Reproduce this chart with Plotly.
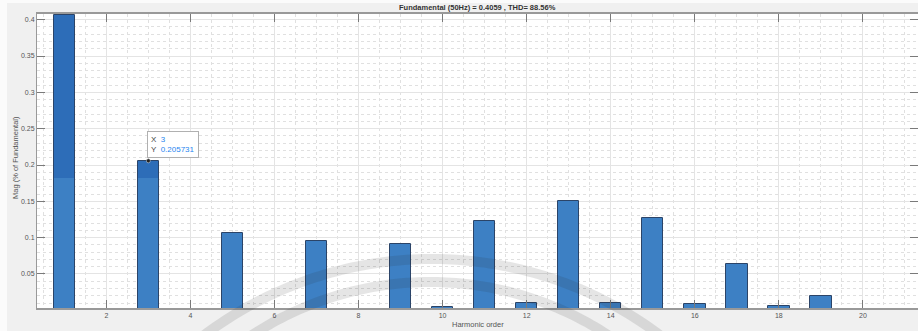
import numpy as np
import plotly.graph_objects as go

# Harmonic spectrum (FFT analysis of the measured signal)
harmonics = list(range(1, 21))
magnitudes = [0.4059, 0.0021, 0.205731, 0.0016, 0.1060, 0.0012, 0.0958, 0.0014,
              0.0913, 0.0050, 0.1233, 0.0100, 0.1500, 0.0105, 0.1270, 0.0083,
              0.0637, 0.0064, 0.0200, 0.0024]
y_tick_vals = [0.05, 0.1, 0.15, 0.2, 0.25, 0.3, 0.35, 0.4]
y_tick_text = ["0.05", "0.1", "0.15", "0.2", "0.25", "0.3", "0.35", "0.4"]
x_tick_vals = [2, 4, 6, 8, 10, 12, 14, 16, 18, 20]
title_text = "Fundamental (50Hz) = 0.4059 , THD= 88.56%"
tip_index = 2  # data tip placed on the 3rd harmonic

W, H = 918, 331
ML, MR, MT, MB = 37, 0, 14, 23
PW, PH = W - ML - MR, H - MT - MB

SPLIT = 0.182
BAR_W = 0.51
light_blue = "#3d80c4"
dark_blue = "#2d6db8"
edge = "#2b4468"
font = "Liberation Sans, Arial, sans-serif"


def px_to_paper(px, py):
    return (px - ML) / PW, (H - MB - py) / PH


fig = go.Figure()

# bar body
fig.add_trace(go.Bar(x=harmonics, y=magnitudes, width=BAR_W,
                     marker=dict(color=light_blue, line=dict(width=0)),
                     hoverinfo="skip"))
# darker shading on the upper part of the tall bars
up_x = [h for h, m in zip(harmonics, magnitudes) if m > SPLIT]
up_y = [m - SPLIT for m in magnitudes if m > SPLIT]
fig.add_trace(go.Bar(x=up_x, y=up_y, base=[SPLIT] * len(up_x), width=BAR_W,
                     marker=dict(color=dark_blue, line=dict(width=0)),
                     hoverinfo="skip"))
# bar outlines
fig.add_trace(go.Bar(x=harmonics, y=magnitudes, width=BAR_W,
                     marker=dict(color="rgba(0,0,0,0)",
                                 line=dict(color=edge, width=1)),
                     hoverinfo="skip"))
# data tip marker
fig.add_trace(go.Scatter(x=[harmonics[tip_index]], y=[magnitudes[tip_index]],
                         mode="markers",
                         marker=dict(size=4, color="#222",
                                     line=dict(color="#ddd", width=0.5)),
                         hoverinfo="skip"))

shapes = []
# white strips at the left and top border of the figure window
shapes.append(dict(type="rect", xref="paper", yref="paper",
                   x0=px_to_paper(0, 0)[0], x1=px_to_paper(7, 0)[0],
                   y0=px_to_paper(0, H)[1], y1=px_to_paper(0, 0)[1],
                   fillcolor="#fbfbfb", line=dict(width=0), layer="below"))
shapes.append(dict(type="rect", xref="paper", yref="paper",
                   x0=px_to_paper(0, 0)[0], x1=px_to_paper(W, 0)[0],
                   y0=px_to_paper(0, 3)[1], y1=px_to_paper(0, 0)[1],
                   fillcolor="#fbfbfb", line=dict(width=0), layer="below"))

# faint arc bands across the lower part of the figure
for cx, cy, r in [(432, 638, 379), (430, 607, 325)]:
    ang = np.linspace(np.pi * 1.13, np.pi * 1.87, 160)
    xs = cx + r * np.cos(ang)
    ys = cy + r * np.sin(ang)
    keep = ys <= H + 8
    pts = [px_to_paper(a, b) for a, b in zip(xs[keep], ys[keep])]
    path = "M " + " L ".join(f"{a:.5f},{b:.5f}" for a, b in pts)
    shapes.append(dict(type="path", xref="paper", yref="paper", path=path,
                       line=dict(color="rgba(40,40,40,0.12)", width=10),
                       layer="above"))

tip_text = (f"X  <span style='color:#1f86f0'>{harmonics[tip_index]}</span><br>"
            f"Y  <span style='color:#1f86f0'>{magnitudes[tip_index]:g}</span>")

annotations = [
    dict(x=harmonics[tip_index], y=magnitudes[tip_index], xref="x", yref="y",
         text=tip_text, showarrow=False, xanchor="left", yanchor="bottom",
         align="left", xshift=-1, yshift=3,
         font=dict(family=font, size=8, color="#444"),
         bgcolor="white", bordercolor="#b0b0b0", borderwidth=1, borderpad=3),
    dict(x=0.5, y=px_to_paper(0, 8)[1], xref="paper", yref="paper",
         text=f"<b>{title_text}</b>", showarrow=False,
         xanchor="center", yanchor="middle",
         font=dict(family=font, size=7.5, color="#333")),
    dict(x=0.5, y=px_to_paper(0, 324)[1], xref="paper", yref="paper",
         text="Harmonic order", showarrow=False,
         xanchor="center", yanchor="middle",
         font=dict(family=font, size=7.5, color="#555")),
    dict(x=px_to_paper(15, 0)[0], y=px_to_paper(0, 158)[1],
         xref="paper", yref="paper", text="Mag (% of Fundamental)",
         showarrow=False, textangle=-90, xanchor="center", yanchor="middle",
         font=dict(family=font, size=7.5, color="#555")),
]

fig.update_layout(
    width=W, height=H,
    margin=dict(l=ML, r=MR, t=MT, b=MB, pad=0),
    paper_bgcolor="#f0f0f0", plot_bgcolor="white",
    barmode="overlay", showlegend=False, bargap=0,
    shapes=shapes, annotations=annotations,
    font=dict(family=font, size=7, color="#555"),
    xaxis=dict(range=[0.35, 21.31], tickvals=x_tick_vals,
               ticks="inside", ticklen=8, tickwidth=1, tickcolor="#7a7a7a",
               showline=True, linecolor="#999999", linewidth=2, mirror="ticks",
               showgrid=True, gridcolor="#e4e4e4", gridwidth=1, zeroline=False,
               minor=dict(tick0=0, dtick=0.5, showgrid=True, gridcolor="#e0e0e0",
                          griddash="dot", gridwidth=1),
               tickfont=dict(family=font, size=7, color="#555")),
    yaxis=dict(range=[0.0032, 0.4078], tickvals=y_tick_vals, ticktext=y_tick_text,
               ticks="inside", ticklen=8, tickwidth=1, tickcolor="#7a7a7a",
               showline=True, linecolor="#999999", linewidth=1, mirror="ticks",
               showgrid=True, gridcolor="#e4e4e4", gridwidth=1, zeroline=False,
               minor=dict(tick0=0, dtick=0.01, showgrid=True, gridcolor="#e0e0e0",
                          griddash="dot", gridwidth=1),
               tickfont=dict(family=font, size=7, color="#555")),
)

fig.write_html("out.html")
